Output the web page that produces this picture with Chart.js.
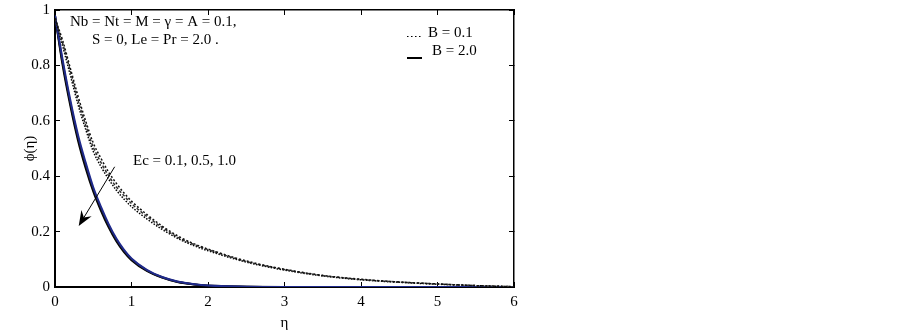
<!DOCTYPE html>
<html>
<head>
<meta charset="utf-8">
<script src="https://cdn.jsdelivr.net/npm/chart.js@4.4.1/dist/chart.umd.min.js"></script>
<style>
  html, body { margin: 0; padding: 0; background: #fff; }
  #wrap { width: 902px; height: 333px; position: relative; }
</style>
</head>
<body>
<div id="wrap"><canvas id="phi-chart"></canvas></div>
<script>
// eta grid shared by all curves
const eta = [0, 0.1, 0.2, 0.3, 0.4, 0.5, 0.6, 0.7, 0.8, 0.9, 1.0, 1.2, 1.4, 1.6, 1.8, 2.0, 2.5, 3.0, 3.5, 4.0, 4.5, 5.0, 5.5, 6.0];

// B = 0.1 (dotted), Ec = 0.1, 0.5, 1.0
const phiB01Ec01 = [0.97, 0.89, 0.79, 0.69, 0.60, 0.52, 0.465, 0.415, 0.375, 0.34, 0.31, 0.262, 0.22, 0.185, 0.158, 0.137, 0.094, 0.064, 0.042, 0.028, 0.018, 0.011, 0.005, 0.001];
const phiB01Ec05 = [0.97, 0.88, 0.78, 0.675, 0.585, 0.505, 0.45, 0.402, 0.362, 0.33, 0.301, 0.255, 0.215, 0.18, 0.155, 0.135, 0.092, 0.063, 0.041, 0.027, 0.018, 0.011, 0.005, 0.001];
const phiB01Ec10 = [0.97, 0.87, 0.765, 0.66, 0.57, 0.49, 0.435, 0.39, 0.35, 0.318, 0.29, 0.246, 0.208, 0.176, 0.151, 0.131, 0.09, 0.061, 0.04, 0.026, 0.017, 0.01, 0.005, 0.001];

// B = 2.0 (solid), Ec = 0.1, 0.5, 1.0
const phiB20Ec01 = [0.98, 0.82, 0.675, 0.55, 0.45, 0.36, 0.29, 0.228, 0.176, 0.135, 0.103, 0.062, 0.036, 0.02, 0.011, 0.005, 0.001, 0, 0, 0, 0, 0, 0, 0];
const phiB20Ec05 = [0.98, 0.81, 0.665, 0.54, 0.44, 0.353, 0.283, 0.222, 0.171, 0.131, 0.1, 0.06, 0.035, 0.019, 0.01, 0.005, 0.001, 0, 0, 0, 0, 0, 0, 0];
const phiB20Ec10 = [0.98, 0.80, 0.655, 0.53, 0.43, 0.345, 0.276, 0.216, 0.166, 0.127, 0.097, 0.058, 0.034, 0.018, 0.01, 0.004, 0.001, 0, 0, 0, 0, 0, 0, 0];

const xTicks = [0, 1, 2, 3, 4, 5, 6];
const yTicks = [0, 0.2, 0.4, 0.6, 0.8, 1];

const serif = "'Liberation Serif', 'DejaVu Serif', serif";

function pts(ys) {
    return eta.map((x, i) => ({ x: x, y: ys[i] }));
}

function curve(ys, color, dash, width) {
    return {
        data: pts(ys),
        borderColor: color,
        borderWidth: width,
        borderDash: dash,
        pointRadius: 0,
        fill: false,
        cubicInterpolationMode: 'monotone'
    };
}

// texts, legend and Ec arrow
const annotations = {
    id: 'annotations',
    afterDatasetsDraw(chart) {
        const ctx = chart.ctx;
        const xs = chart.scales.x;
        const ys = chart.scales.y;
        ctx.save();
        ctx.fillStyle = '#000';
        ctx.strokeStyle = '#000';
        ctx.font = '15px ' + serif;
        ctx.textBaseline = 'middle';
        ctx.textAlign = 'left';
        ctx.fillText('Nb = Nt = M = \u03B3 = A = 0.1,', 70, 22);
        ctx.fillText('S = 0, Le = Pr = 2.0 .', 92, 40);
        ctx.fillText('Ec = 0.1, 0.5, 1.0', 133, 161);

        // legend
        ctx.fillText('B = 0.1', 428, 33);
        ctx.fillText('B = 2.0', 432, 51);
        ctx.lineWidth = 1;
        ctx.setLineDash([1.5, 2.5]);
        ctx.beginPath();
        ctx.moveTo(407, 36.5);
        ctx.lineTo(423, 36.5);
        ctx.stroke();
        ctx.setLineDash([]);
        ctx.lineWidth = 2;
        ctx.beginPath();
        ctx.moveTo(407, 58);
        ctx.lineTo(422, 58);
        ctx.stroke();

        // arrow
        const x0 = xs.getPixelForValue(0.78), y0 = ys.getPixelForValue(0.434);
        const x1 = xs.getPixelForValue(0.31), y1 = ys.getPixelForValue(0.22);
        const ang = Math.atan2(y1 - y0, x1 - x0);
        ctx.lineWidth = 1;
        ctx.beginPath();
        ctx.moveTo(x0, y0);
        ctx.lineTo(x1 - 8 * Math.cos(ang), y1 - 8 * Math.sin(ang));
        ctx.stroke();
        ctx.beginPath();
        ctx.moveTo(x1, y1);
        ctx.lineTo(x1 - 15 * Math.cos(ang) + 6 * Math.sin(ang), y1 - 15 * Math.sin(ang) - 6 * Math.cos(ang));
        ctx.lineTo(x1 - 10 * Math.cos(ang), y1 - 10 * Math.sin(ang));
        ctx.lineTo(x1 - 15 * Math.cos(ang) - 6 * Math.sin(ang), y1 - 15 * Math.sin(ang) + 6 * Math.cos(ang));
        ctx.closePath();
        ctx.fill();
        ctx.restore();
    }
};

const tickFont = { family: serif, size: 15 };

new Chart(document.getElementById('phi-chart'), {
    type: 'line',
    data: {
        datasets: [
            curve(phiB01Ec01, '#111', [2, 2], 1.5),
            curve(phiB01Ec05, '#333', [3, 2], 1.5),
            curve(phiB01Ec10, '#000', [1.5, 1.5], 1.5),
            curve(phiB20Ec01, '#1f2a8c', [], 2),
            curve(phiB20Ec05, '#111', [], 2),
            curve(phiB20Ec10, '#000', [], 2)
        ]
    },
    options: {
        responsive: true,
        maintainAspectRatio: false,
        animation: false,
        layout: { padding: { left: 0, right: 388, top: 10, bottom: 0 } },
        plugins: { legend: { display: false }, tooltip: { enabled: false } },
        scales: {
            x: {
                type: 'linear',
                position: 'bottom',
                min: 0, max: 6,
                afterBuildTicks: s => { s.ticks = xTicks.map(v => ({ value: v })); },
                afterFit: s => { s.height = 46; s.paddingLeft = 0; s.paddingRight = 0; },
                border: { display: true, color: '#000', width: 2 },
                grid: { drawOnChartArea: false, drawTicks: true, tickLength: -5, color: '#000', lineWidth: 1 },
                ticks: { color: '#000', font: tickFont, padding: 11, maxRotation: 0 },
                title: { display: true, text: '\u03B7', color: '#000', font: tickFont, padding: { top: 0, bottom: 1 } }
            },
            x2: {
                type: 'linear',
                position: 'top',
                min: 0, max: 6,
                afterBuildTicks: s => { s.ticks = xTicks.map(v => ({ value: v })); },
                afterFit: s => { s.height = 0; s.paddingLeft = 0; s.paddingRight = 0; },
                border: { display: true, color: '#000', width: 1.5 },
                grid: { drawOnChartArea: false, drawTicks: true, tickLength: -5, color: '#000', lineWidth: 1 },
                ticks: { display: false }
            },
            y: {
                type: 'linear',
                position: 'left',
                min: 0, max: 1,
                afterBuildTicks: s => { s.ticks = yTicks.map(v => ({ value: v })); },
                afterFit: s => { s.width = 55; s.paddingTop = 0; s.paddingBottom = 0; },
                border: { display: true, color: '#000', width: 2 },
                grid: { drawOnChartArea: false, drawTicks: true, tickLength: -5, color: '#000', lineWidth: 1 },
                ticks: { color: '#000', font: tickFont, padding: 10, callback: v => String(Math.round(v * 10) / 10) },
                title: { display: true, text: '\u03D5(\u03B7)', color: '#000', font: tickFont, padding: { top: 21, bottom: 0 } }
            },
            y2: {
                type: 'linear',
                position: 'right',
                min: 0, max: 1,
                afterBuildTicks: s => { s.ticks = yTicks.map(v => ({ value: v })); },
                afterFit: s => { s.width = 0; s.paddingTop = 0; s.paddingBottom = 0; },
                border: { display: true, color: '#000', width: 1.5 },
                grid: { drawOnChartArea: false, drawTicks: true, tickLength: -5, color: '#000', lineWidth: 1 },
                ticks: { display: false }
            }
        }
    },
    plugins: [annotations]
});
</script>
</body>
</html>
